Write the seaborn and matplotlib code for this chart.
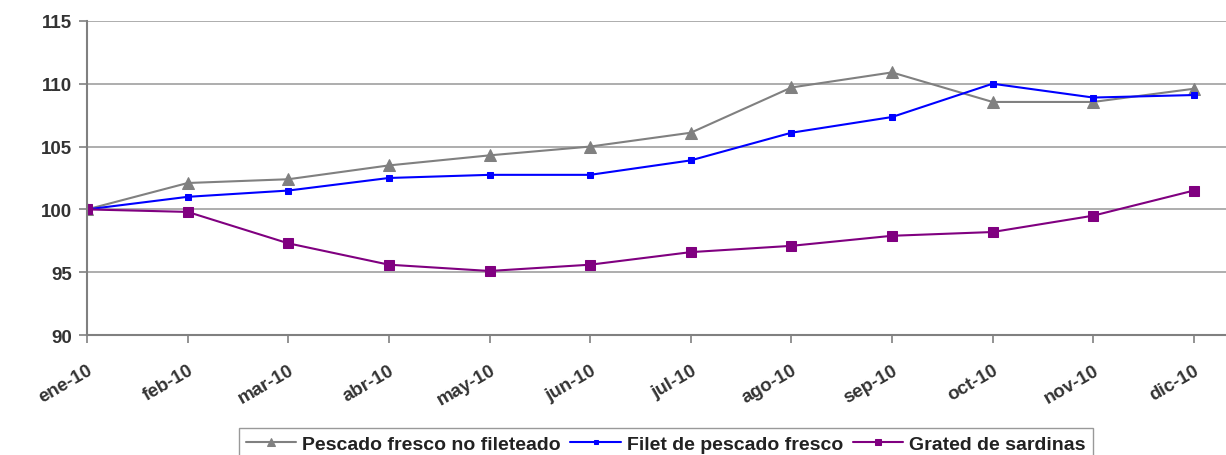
import numpy as np
import pandas as pd
import matplotlib
matplotlib.use("Agg")
import matplotlib.pyplot as plt
import matplotlib.transforms as mtransforms
import seaborn as sns

months = ["ene-10", "feb-10", "mar-10", "abr-10", "may-10", "jun-10",
          "jul-10", "ago-10", "sep-10", "oct-10", "nov-10", "dic-10"]
pescado_fresco = [100.0, 102.1, 102.4, 103.5, 104.3, 105.0, 106.1, 109.7, 110.9, 108.55, 108.55, 109.6]
filet_pescado = [100.0, 101.0, 101.5, 102.5, 102.75, 102.75, 103.9, 106.1, 107.35, 110.0, 108.9, 109.1]
grated_sardinas = [100.0, 99.8, 97.3, 95.6, 95.1, 95.6, 96.6, 97.1, 97.9, 98.2, 99.5, 101.5]
series_names = ["Pescado fresco no fileteado", "Filet de pescado fresco", "Grated de sardinas"]
yticks = [90, 95, 100, 105, 110, 115]

sns.set_style("white")
plt.rcParams["font.family"] = ["Liberation Sans", "DejaVu Sans"]

fig = plt.figure(figsize=(12.26, 4.56), dpi=100)
ax = fig.add_axes([0.071, 0.263, 0.929, 0.689])

x = np.arange(len(months))
styles = [
    (pescado_fresco, "#808080", "^", 9),
    (filet_pescado, "#0000FF", "s", 5),
    (grated_sardinas, "#800080", "s", 7),
]
for (vals, color, marker, ms), name in zip(styles, series_names):
    df = pd.DataFrame({"x": x, "y": vals})
    sns.lineplot(data=df, x="x", y="y", ax=ax, color=color, marker=marker,
                 markersize=ms, markeredgecolor=color, linewidth=1.5, label=name)

ax.set_ylim(90, 115)
ax.set_xlim(0, 11.32)
ax.set_yticks(yticks)
ax.set_yticklabels([str(v) for v in yticks], fontsize=13.5, fontweight="bold", color="#333333")
ax.set_xticks(x)
ax.set_xticklabels(months, rotation=30, ha="right", rotation_mode="anchor",
                   fontsize=13.5, fontweight="bold", color="#333333")
offset = mtransforms.ScaledTranslation(-6 / 100, 0, fig.dpi_scale_trans)
for lbl in ax.get_xticklabels():
    lbl.set_transform(lbl.get_transform() + offset)
ax.set_xlabel("")
ax.set_ylabel("")
ax.grid(axis="y", color="#a0a0a0", linewidth=1.2)
ax.grid(axis="x", visible=False)
for s in ["top", "right"]:
    ax.spines[s].set_visible(False)
for s in ["left", "bottom"]:
    ax.spines[s].set_color("#808080")
    ax.spines[s].set_linewidth(1.5)
ax.tick_params(axis="y", length=6, width=1.2, color="#808080", direction="out", left=True, pad=5)
ax.tick_params(axis="x", length=6, width=1.2, color="#808080", direction="out", bottom=True, pad=13)

leg = ax.legend(loc="upper center", bbox_to_anchor=(0.543, 0.059),
                bbox_transform=fig.transFigure, borderaxespad=0, ncol=3, frameon=True,
                fancybox=False, edgecolor="#808080", handlelength=2.6, markerscale=0.65,
                handletextpad=0.3, columnspacing=0.5, borderpad=0.35,
                prop={"family": ["Liberation Sans", "DejaVu Sans"],
                      "weight": "bold", "size": 14})
leg.get_frame().set_linewidth(1.0)
for t in leg.get_texts():
    t.set_color("#222222")

fig.savefig("out.png", dpi=100)
